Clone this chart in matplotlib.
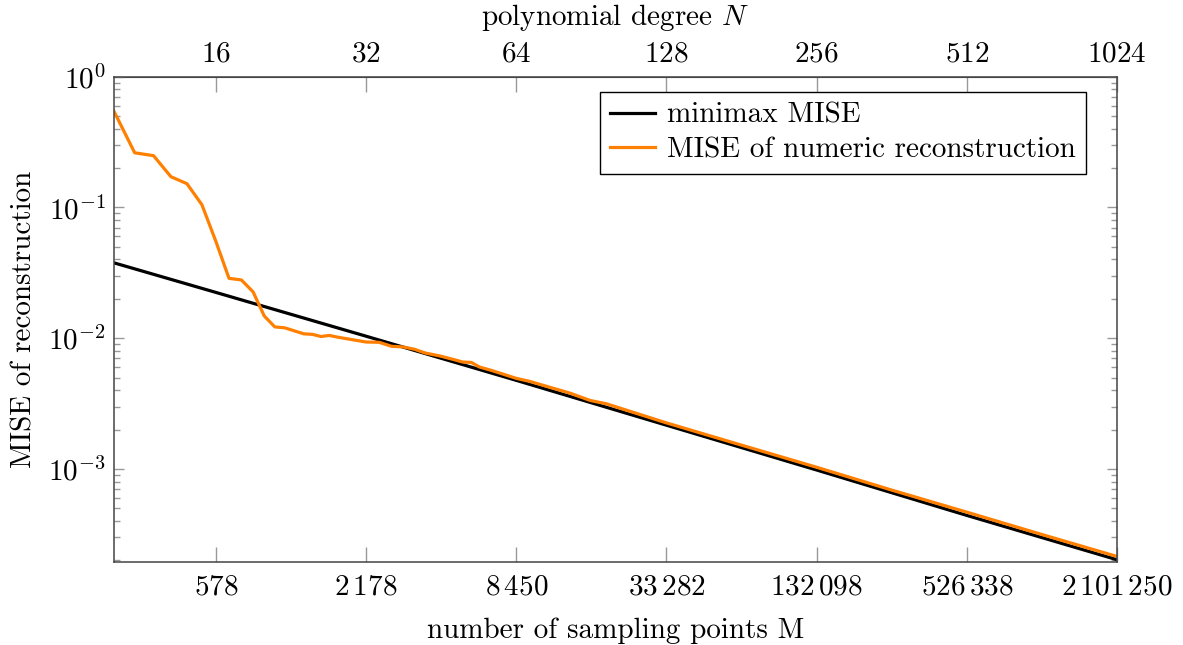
import numpy as np
import matplotlib
matplotlib.use("Agg")
import matplotlib.pyplot as plt
from matplotlib.ticker import LogLocator, NullFormatter, FixedLocator

plt.rcParams["font.family"] = "serif"
plt.rcParams["font.serif"] = ["cmr10"]
plt.rcParams["mathtext.fontset"] = "cm"
plt.rcParams["axes.unicode_minus"] = False

# tick positions: polynomial degree N and matching sampling points M
degree_ticks = [16, 32, 64, 128, 256, 512, 1024]
sample_ticks = [578, 2178, 8450, 33282, 132098, 526338, 2101250]

# minimax MISE
minimax_N = [10, 16, 32, 64, 128, 256, 512, 1024]
minimax_mise = [0.0377, 0.0224, 0.01036, 0.00476, 0.00216, 0.000981, 0.000441, 0.000202]

# MISE of the numeric reconstruction
numeric_N = [10, 11, 12, 13, 14, 15, 16, 17, 18, 19, 20, 21, 22, 24, 25, 26, 27, 28,
             30, 32, 34, 36, 38, 40, 42, 45, 48, 50, 52, 54, 57, 64, 68, 82, 90, 97,
             128, 180, 256, 362, 512, 724, 1024]
numeric_mise = [0.543, 0.262, 0.249, 0.172, 0.152, 0.105, 0.055, 0.0287, 0.0279, 0.0226,
                0.0148, 0.0122, 0.0120, 0.0108, 0.0107, 0.0103, 0.0105, 0.0102,
                0.00975, 0.00935, 0.0093, 0.00867, 0.00857, 0.00823, 0.00771, 0.00731,
                0.00686, 0.00657, 0.00653, 0.00602, 0.00568, 0.00493, 0.00468, 0.00380,
                0.00334, 0.00315, 0.00225, 0.00153, 0.00103, 0.000689, 0.000467,
                0.000315, 0.000214]


def thin(m):
    return "$" + f"{m:,}".replace(",", r"\,") + "$"


fig = plt.figure(figsize=(11.83, 6.45), dpi=100)
ax = fig.add_axes([0.0964, 0.1291, 0.8478, 0.7519])

ax.plot(minimax_N, minimax_mise, color="black", lw=2.3, label="minimax MISE")
ax.plot(numeric_N, numeric_mise, color="#ff8000", lw=2.3,
        label="MISE of numeric reconstruction")

ax.set_xscale("log")
ax.set_yscale("log")
ax.set_xlim(10, 1024)
ax.set_ylim(1.95e-4, 1)

ax.xaxis.set_major_locator(FixedLocator(degree_ticks))
ax.xaxis.set_minor_locator(FixedLocator([]))
ax.set_xticklabels([thin(m) for m in sample_ticks])
ax.yaxis.set_major_locator(FixedLocator([1e-3, 1e-2, 1e-1, 1]))
ax.set_yticklabels([r"$10^{-3}$", r"$10^{-2}$", r"$10^{-1}$", r"$10^{0}$"])
ax.yaxis.set_minor_locator(LogLocator(base=10, subs=np.arange(2, 10), numticks=20))
ax.yaxis.set_minor_formatter(NullFormatter())

fs = 21
ax.tick_params(axis="x", which="major", direction="in", length=11, width=1.0,
               color="#999999", labelsize=fs, pad=9)
ax.tick_params(axis="y", which="major", direction="in", length=7, width=1.0,
               color="#999999", labelsize=fs, right=True, pad=6)
ax.tick_params(axis="y", which="minor", direction="in", length=4, width=1.0,
               color="#999999", right=True)
for s in ax.spines.values():
    s.set_color("#444444")
    s.set_linewidth(1.1)

top = ax.secondary_xaxis("top")
top.set_xticks(degree_ticks)
top.set_xticklabels([f"${n}$" for n in degree_ticks])
top.xaxis.set_minor_locator(FixedLocator([]))
top.tick_params(direction="in", length=11, width=1.0, color="#999999",
                labelsize=fs, pad=7)
top.spines["top"].set_color("#444444")
top.set_xlabel(r"polynomial degree $N$", fontsize=fs, labelpad=11)

ax.set_xlabel("number of sampling points M", fontsize=fs, labelpad=12)
ax.set_ylabel("MISE of reconstruction", fontsize=fs, labelpad=8)

leg = ax.legend(loc="upper right", bbox_to_anchor=(0.969, 0.968), fontsize=fs,
                frameon=True, fancybox=False, edgecolor="black", framealpha=1,
                handlelength=1.55, handletextpad=0.4, borderpad=0.35,
                labelspacing=0.28, borderaxespad=0)
leg.get_frame().set_linewidth(1.0)

fig.savefig("out.png", dpi=100)
